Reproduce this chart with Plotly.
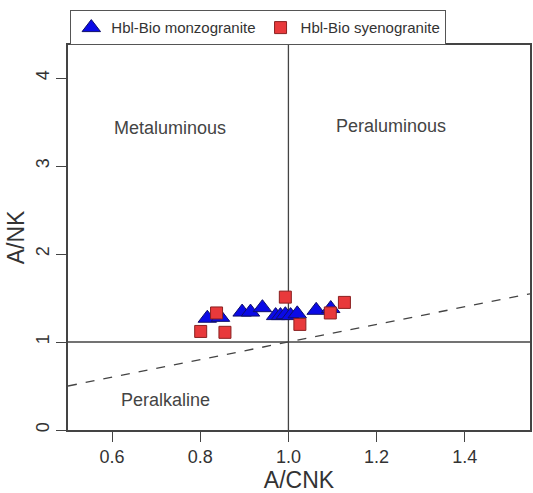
import plotly.graph_objects as go

# Data
monzo_acnk = [0.816, 0.846, 0.895, 0.914, 0.941, 0.971, 0.982, 0.993, 1.005, 1.020, 1.063, 1.096]
monzo_ank = [1.27, 1.28, 1.34, 1.34, 1.39, 1.30, 1.30, 1.31, 1.30, 1.32, 1.36, 1.38]

syeno_acnk = [0.837, 0.801, 0.856, 0.993, 1.026, 1.095, 1.127]
syeno_ank = [1.33, 1.12, 1.11, 1.51, 1.20, 1.33, 1.45]

x_ticks = [0.6, 0.8, 1.0, 1.2, 1.4]
x_tick_labels = ["0.6", "0.8", "1.0", "1.2", "1.4"]
y_ticks = [0, 1, 2, 3, 4]
y_tick_labels = ["0", "1", "2", "3", "4"]

X_MIN, X_MAX = 0.5, 1.548
Y_MIN, Y_MAX = 0.0, 4.375

FONT = "Arial, Liberation Sans, sans-serif"

fig = go.Figure()

# reference lines
fig.add_trace(go.Scatter(x=[X_MIN, X_MAX], y=[X_MIN, X_MAX], mode="lines",
                         line=dict(color="#444", width=1.3, dash="dash"),
                         showlegend=False, hoverinfo="skip"))
fig.add_trace(go.Scatter(x=[1, 1], y=[Y_MIN, Y_MAX], mode="lines",
                         line=dict(color="#444", width=1.3),
                         showlegend=False, hoverinfo="skip"))
fig.add_trace(go.Scatter(x=[X_MIN, X_MAX], y=[1, 1], mode="lines",
                         line=dict(color="#444", width=1.3),
                         showlegend=False, hoverinfo="skip"))

fig.add_trace(go.Scatter(x=monzo_acnk, y=monzo_ank, mode="markers",
                         name="Hbl-Bio monzogranite",
                         marker=dict(symbol="triangle-up", size=16, color="#0a0ae6",
                                     line=dict(color="#10106a", width=1))))
fig.add_trace(go.Scatter(x=syeno_acnk, y=syeno_ank, mode="markers",
                         name="Hbl-Bio syenogranite",
                         marker=dict(symbol="square", size=12, color="#e8393b",
                                     line=dict(color="#8a2020", width=1))))

for txt, x, y in [("Metaluminous", 0.732, 3.43), ("Peraluminous", 1.233, 3.45), ("Peralkaline", 0.721, 0.34)]:
    fig.add_annotation(x=x, y=y, text=txt, showarrow=False,
                       font=dict(family=FONT, size=18, color="#444"))

fig.update_layout(
    width=533, height=493,
    margin=dict(l=68, r=1, t=45, b=63),
    paper_bgcolor="white", plot_bgcolor="white",
    font=dict(family=FONT, color="#333"),
    legend=dict(orientation="h", x=0.005, y=1.09, xanchor="left", yanchor="top",
                bordercolor="#555", borderwidth=1, bgcolor="white",
                font=dict(family=FONT, size=15, color="#333"),
                itemwidth=30, tracegroupgap=0),
    xaxis=dict(range=[X_MIN, X_MAX], tickvals=x_ticks, ticktext=x_tick_labels,
               ticks="outside", ticklen=10, tickcolor="#444", tickwidth=1.3,
               showline=True, linecolor="#444", linewidth=1.5, mirror=True,
               showgrid=False, zeroline=False,
               tickfont=dict(size=18, color="#333"),
               title=dict(text="A/CNK", font=dict(size=23, color="#333"), standoff=8)),
    yaxis=dict(range=[Y_MIN, Y_MAX], tickvals=y_ticks, ticktext=y_tick_labels,
               ticks="outside", ticklen=10, tickcolor="#444", tickwidth=1.3,
               tickangle=-90,
               showline=True, linecolor="#444", linewidth=1.5, mirror=True,
               showgrid=False, zeroline=False,
               tickfont=dict(size=18, color="#333"),
               title=dict(text="A/NK", font=dict(size=23, color="#333"), standoff=2)),
)

fig.write_html("out.html", config={"displayModeBar": False},
               post_script="document.body.style.margin='0';")
